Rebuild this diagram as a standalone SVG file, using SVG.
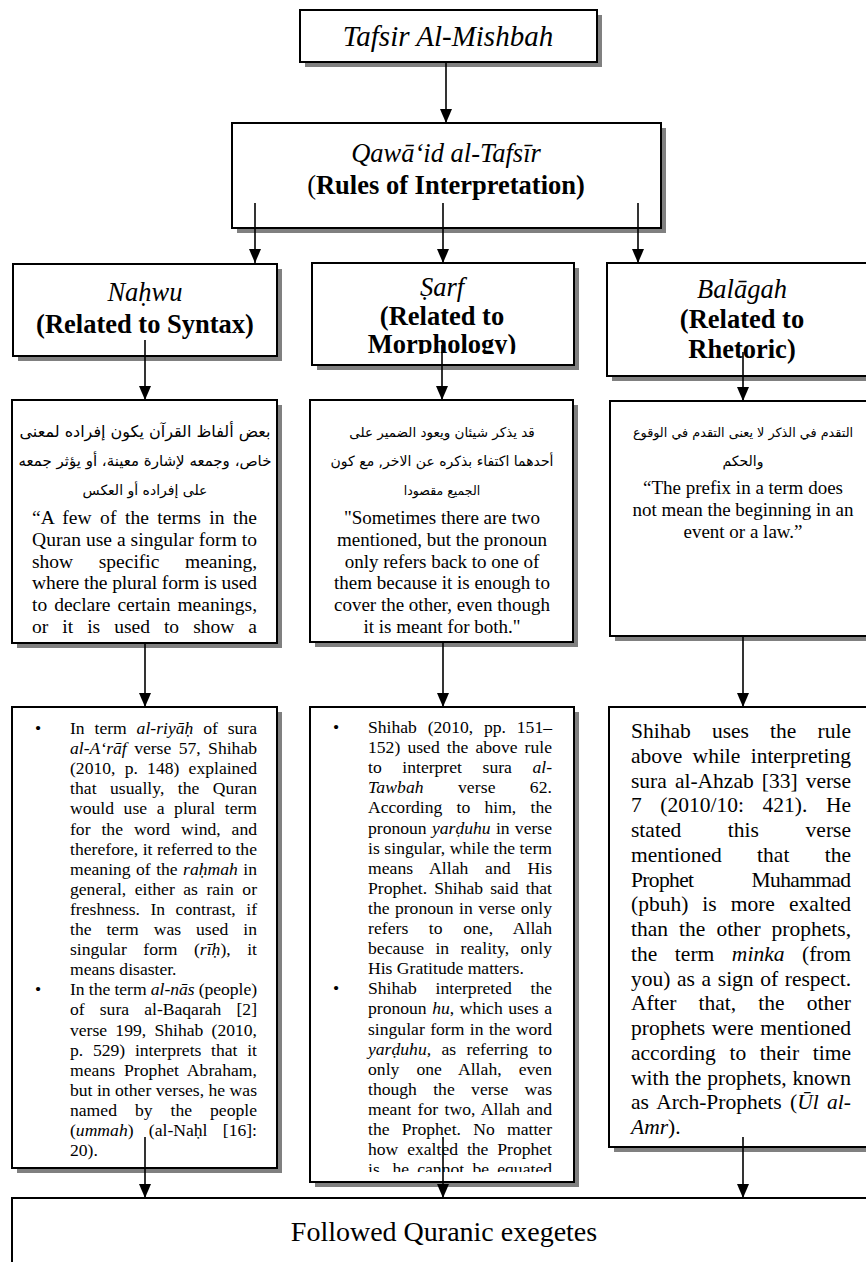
<svg xmlns="http://www.w3.org/2000/svg" width="866" height="1262" viewBox="0 0 866 1262">
<style>
.box{fill:#fff;stroke:#000;stroke-width:2}
.sh{fill:#808080}
text{font-family:'Liberation Serif','Times New Roman',serif;fill:#000}
.ar{font-family:'DejaVu Sans',sans-serif;font-size:14px;text-anchor:middle}
.i{font-style:italic}
.b{font-weight:bold}
.h{font-size:26.5px;text-anchor:middle}
.u{font-size:19.5px}
.c{font-size:19px;text-anchor:middle}
.s{font-size:17.6px}
.r{font-size:21.5px}
.conn line{stroke:#000;stroke-width:1.6;marker-end:url(#ah)}
</style>
<defs>
<marker id="ah" markerUnits="userSpaceOnUse" markerWidth="14" markerHeight="12" viewBox="0 0 14 12" refX="14" refY="6" orient="auto"><path d="M0,0 L14,6 L0,12 z" fill="#000"/></marker>
<clipPath id="cSarf"><rect x="312" y="263" width="262" height="91"/></clipPath>
<clipPath id="cSarfL"><rect x="310" y="707" width="264" height="465"/></clipPath>
</defs>

<g id="title">
<rect class="sh" x="305" y="15" width="297" height="52"/>
<rect class="box" x="300" y="10" width="297" height="52"/>
<text class="h i" x="448" y="46" style="font-size:29px">Tafsir Al-Mishbah</text>
</g>

<g id="qawaid">
<rect class="sh" x="237" y="128" width="429" height="105"/>
<rect class="box" x="232" y="123" width="429" height="105"/>
<text class="h i" x="446" y="162">Qawā‘id al-Tafsīr</text>
<text class="h" x="446" y="194">(<tspan class="b">Rules of Interpretation)</tspan></text>
</g>

<g id="nahwu">
<rect class="sh" x="18" y="269" width="264" height="92"/>
<rect class="box" x="13" y="264" width="264" height="92"/>
<text class="h i" x="145" y="301">Naḥwu</text>
<text class="h b" x="145" y="333">(Related to Syntax)</text>
</g>

<g id="sarf">
<rect class="sh" x="317" y="268" width="262" height="102"/>
<rect class="box" x="312" y="263" width="262" height="102"/>
<text class="h i" x="442" y="296">Ṣarf</text>
<g clip-path="url(#cSarf)">
<text class="h b" x="442" y="325">(Related to</text>
<text class="h b" x="442" y="353">Morphology)</text>
</g>
</g>

<g id="balagah">
<rect class="sh" x="612" y="268" width="270" height="113"/>
<rect class="box" x="607" y="263" width="270" height="113"/>
<text class="h i" x="742" y="298">Balāgah</text>
<text class="h b" x="742" y="328">(Related to</text>
<text class="h b" x="742" y="358">Rhetoric)</text>
</g>

<g id="nahwu-rule">
<rect class="sh" x="17" y="405" width="265" height="243"/>
<rect class="box" x="12" y="400" width="265" height="243"/>
<text class="ar" x="145" y="437" style="font-size:16px">بعض ألفاظ القرآن يكون إفراده لمعنى</text>
<text class="ar" x="145" y="466" style="font-size:15px">خاص، وجمعه لإشارة معينة، أو يؤثر جمعه</text>
<text class="ar" x="145" y="495" style="font-size:14px">على إفراده أو العكس</text>
<text class="u" x="32" y="524" textLength="225" lengthAdjust="spacing" word-spacing="3.6">“A few of the terms in the</text>
<text class="u" x="32" y="545.8" textLength="225" lengthAdjust="spacing">Quran use a singular form to</text>
<text class="u" x="32" y="567.6" textLength="225" lengthAdjust="spacing" word-spacing="20.7">show specific meaning,</text>
<text class="u" x="32" y="589.4" textLength="225" lengthAdjust="spacing">where the plural form is used</text>
<text class="u" x="32" y="611.2" textLength="225" lengthAdjust="spacing" word-spacing="2.1">to declare certain meanings,</text>
<text class="u" x="32" y="633" textLength="225" lengthAdjust="spacing" word-spacing="9.2">or it is used to show a</text>
</g>

<g id="sarf-rule">
<rect class="sh" x="315" y="405" width="263" height="242"/>
<rect class="box" x="310" y="400" width="263" height="242"/>
<text class="ar" x="442" y="437" style="font-size:13.5px">قد يذكر شيئان ويعود الضمير على</text>
<text class="ar" x="442" y="466">أحدهما اكتفاء بذكره عن الاخر, مع كون</text>
<text class="ar" x="442" y="495" style="font-size:12.5px">الجميع مقصودا</text>
<text class="c" x="442" y="524">"Sometimes there are two</text>
<text class="c" x="442" y="545.8">mentioned, but the pronoun</text>
<text class="c" x="442" y="567.6">only refers back to one of</text>
<text class="c" x="442" y="589.4">them because it is enough to</text>
<text class="c" x="442" y="611.2">cover the other, even though</text>
<text class="c" x="442" y="633">it is meant for both."</text>
</g>

<g id="balagah-rule">
<rect class="sh" x="615" y="406" width="266" height="235"/>
<rect class="box" x="610" y="401" width="266" height="235"/>
<text class="ar" x="743" y="437" style="font-size:12.8px">التقدم في الذكر لا يعنى التقدم في الوقوع</text>
<text class="ar" x="743" y="466">والحكم</text>
<text class="c" x="743" y="494">“The prefix in a term does</text>
<text class="c" x="743" y="516">not mean the beginning in an</text>
<text class="c" x="743" y="538">event or a law.”</text>
</g>

<g id="nahwu-example">
<rect class="sh" x="17" y="712" width="265" height="461"/>
<rect class="box" x="12" y="707" width="265" height="461"/>
<text class="s" x="35" y="734">•</text>
<text class="s" x="35" y="995.3">•</text>
<text class="s" x="70" y="734" textLength="187" lengthAdjust="spacing" word-spacing="5.4">In term <tspan class="i">al-riyāḥ</tspan> of sura</text>
<text class="s" x="70" y="754.1" textLength="187" lengthAdjust="spacing" word-spacing="3"><tspan class="i">al-A‘rāf</tspan> verse 57, Shihab</text>
<text class="s" x="70" y="774.2" textLength="187" lengthAdjust="spacing" word-spacing="4.8">(2010, p. 148) explained</text>
<text class="s" x="70" y="794.3" textLength="187" lengthAdjust="spacing" word-spacing="8.9">that usually, the Quran</text>
<text class="s" x="70" y="814.4" textLength="187" lengthAdjust="spacing" word-spacing="5.2">would use a plural term</text>
<text class="s" x="70" y="834.5" textLength="187" lengthAdjust="spacing" word-spacing="6.5">for the word wind, and</text>
<text class="s" x="70" y="854.6" textLength="187" lengthAdjust="spacing">therefore, it referred to the</text>
<text class="s" x="70" y="874.7" textLength="187" lengthAdjust="spacing" word-spacing="1">meaning of the <tspan class="i">raḥmah</tspan> in</text>
<text class="s" x="70" y="894.8" textLength="187" lengthAdjust="spacing" word-spacing="4.1">general, either as rain or</text>
<text class="s" x="70" y="914.9" textLength="187" lengthAdjust="spacing" word-spacing="6.1">freshness. In contrast, if</text>
<text class="s" x="70" y="935" textLength="187" lengthAdjust="spacing" word-spacing="10.6">the term was used in</text>
<text class="s" x="70" y="955.1" textLength="187" lengthAdjust="spacing" word-spacing="12.1">singular form (<tspan class="i">rīḥ</tspan>), it</text>
<text class="s" x="70" y="975.2">means disaster.</text>
<text class="s" x="70" y="995.3" textLength="187" lengthAdjust="spacing">In the term <tspan class="i">al-nās</tspan> (people)</text>
<text class="s" x="70" y="1015.4" textLength="187" lengthAdjust="spacing" word-spacing="10.7">of sura al-Baqarah [2]</text>
<text class="s" x="70" y="1035.5" textLength="187" lengthAdjust="spacing" word-spacing="3.8">verse 199, Shihab (2010,</text>
<text class="s" x="70" y="1055.6" textLength="187" lengthAdjust="spacing" word-spacing="5.3">p. 529) interprets that it</text>
<text class="s" x="70" y="1075.7" textLength="187" lengthAdjust="spacing" word-spacing="4.3">means Prophet Abraham,</text>
<text class="s" x="70" y="1095.8" textLength="187" lengthAdjust="spacing">but in other verses, he was</text>
<text class="s" x="70" y="1115.9" textLength="187" lengthAdjust="spacing" word-spacing="13.6">named by the people</text>
<text class="s" x="70" y="1136" textLength="187" lengthAdjust="spacing" word-spacing="10.9">(<tspan class="i">ummah</tspan>) (al-Naḥl [16]:</text>
<text class="s" x="70" y="1156.1">20).</text>
</g>

<g id="sarf-example">
<rect class="sh" x="315" y="712" width="264" height="475"/>
<rect class="box" x="310" y="707" width="264" height="475"/>
<g clip-path="url(#cSarfL)">
<text class="s" x="333" y="733">•</text>
<text class="s" x="333" y="994.3">•</text>
<text class="s" x="368" y="733" textLength="184" lengthAdjust="spacing" word-spacing="6.4">Shihab (2010, pp. 151–</text>
<text class="s" x="368" y="753.1" textLength="184" lengthAdjust="spacing" word-spacing="2.7">152) used the above rule</text>
<text class="s" x="368" y="773.2" textLength="184" lengthAdjust="spacing" word-spacing="16.2">to interpret sura <tspan class="i">al-</tspan></text>
<text class="s" x="368" y="793.3" textLength="184" lengthAdjust="spacing" word-spacing="29.7"><tspan class="i">Tawbah</tspan> verse 62.</text>
<text class="s" x="368" y="813.4" textLength="184" lengthAdjust="spacing" word-spacing="9.8">According to him, the</text>
<text class="s" x="368" y="833.5" textLength="184" lengthAdjust="spacing" word-spacing="0.9">pronoun <tspan class="i">yarḍuhu</tspan> in verse</text>
<text class="s" x="368" y="853.6" textLength="184" lengthAdjust="spacing">is singular, while the term</text>
<text class="s" x="368" y="873.7" textLength="184" lengthAdjust="spacing" word-spacing="12.3">means Allah and His</text>
<text class="s" x="368" y="893.8" textLength="184" lengthAdjust="spacing" word-spacing="2.7">Prophet. Shihab said that</text>
<text class="s" x="368" y="913.9" textLength="184" lengthAdjust="spacing" word-spacing="1">the pronoun in verse only</text>
<text class="s" x="368" y="934" textLength="184" lengthAdjust="spacing" word-spacing="16">refers to one, Allah</text>
<text class="s" x="368" y="954.1" textLength="184" lengthAdjust="spacing" word-spacing="6.9">because in reality, only</text>
<text class="s" x="368" y="974.2">His Gratitude matters.</text>
<text class="s" x="368" y="994.3" textLength="184" lengthAdjust="spacing" word-spacing="14.3">Shihab interpreted the</text>
<text class="s" x="368" y="1014.4" textLength="184" lengthAdjust="spacing" word-spacing="1.2">pronoun <tspan class="i">hu</tspan>, which uses a</text>
<text class="s" x="368" y="1034.5" textLength="184" lengthAdjust="spacing" word-spacing="1">singular form in the word</text>
<text class="s" x="368" y="1054.6" textLength="184" lengthAdjust="spacing" word-spacing="5.9"><tspan class="i">yarḍuhu,</tspan> as referring to</text>
<text class="s" x="368" y="1074.7" textLength="184" lengthAdjust="spacing" word-spacing="12.5">only one Allah, even</text>
<text class="s" x="368" y="1094.8" textLength="184" lengthAdjust="spacing" word-spacing="12">though the verse was</text>
<text class="s" x="368" y="1114.9" textLength="184" lengthAdjust="spacing" word-spacing="1.9">meant for two, Allah and</text>
<text class="s" x="368" y="1135" textLength="184" lengthAdjust="spacing" word-spacing="7.9">the Prophet. No matter</text>
<text class="s" x="368" y="1155.1" textLength="184" lengthAdjust="spacing" word-spacing="4.5">how exalted the Prophet</text>
<text class="s" x="368" y="1175.2" textLength="184" lengthAdjust="spacing" word-spacing="3.8">is, he cannot be equated</text>
</g>
</g>

<g id="balagah-example">
<rect class="sh" x="614" y="712" width="267" height="440"/>
<rect class="box" x="609" y="707" width="267" height="440"/>
<text class="r" x="631" y="738" textLength="220" lengthAdjust="spacing" word-spacing="15.8">Shihab uses the rule</text>
<text class="r" x="631" y="762.75" textLength="220" lengthAdjust="spacing" word-spacing="4.9">above while interpreting</text>
<text class="r" x="631" y="787.5" textLength="220" lengthAdjust="spacing" word-spacing="2.7">sura al-Ahzab [33] verse</text>
<text class="r" x="631" y="812.25" textLength="220" lengthAdjust="spacing" word-spacing="13.2">7 (2010/10: 421). He</text>
<text class="r" x="631" y="837" textLength="220" lengthAdjust="spacing" word-spacing="41.3">stated this verse</text>
<text class="r" x="631" y="861.75" textLength="220" lengthAdjust="spacing" word-spacing="30">mentioned that the</text>
<text class="r" x="631" y="886.5" textLength="220" lengthAdjust="spacing" word-spacing="53.4">Prophet Muhammad</text>
<text class="r" x="631" y="911.25" textLength="220" lengthAdjust="spacing" word-spacing="8.6">(pbuh) is more exalted</text>
<text class="r" x="631" y="936" textLength="220" lengthAdjust="spacing" word-spacing="5.7">than the other prophets,</text>
<text class="r" x="631" y="960.75" textLength="220" lengthAdjust="spacing" word-spacing="12.2">the term <tspan class="i">minka</tspan> (from</text>
<text class="r" x="631" y="985.5" textLength="220" lengthAdjust="spacing" word-spacing="1.3">you) as a sign of respect.</text>
<text class="r" x="631" y="1010.25" textLength="220" lengthAdjust="spacing" word-spacing="16.8">After that, the other</text>
<text class="r" x="631" y="1035" textLength="220" lengthAdjust="spacing" word-spacing="1.3">prophets were mentioned</text>
<text class="r" x="631" y="1059.75" textLength="220" lengthAdjust="spacing" word-spacing="8.2">according to their time</text>
<text class="r" x="631" y="1084.5" textLength="220" lengthAdjust="spacing" word-spacing="0.5">with the prophets, known</text>
<text class="r" x="631" y="1109.25" textLength="220" lengthAdjust="spacing" word-spacing="3">as Arch-Prophets (<tspan class="i">Ūl al-</tspan></text>
<text class="r" x="631" y="1134"><tspan class="i">Amr</tspan>).</text>
</g>

<g id="exegetes">
<rect class="box" x="12" y="1198" width="900" height="100"/>
<text x="444" y="1241" font-size="28" text-anchor="middle">Followed Quranic exegetes</text>
</g>

<g class="conn" id="connectors">
<line x1="446" y1="62" x2="446" y2="123"/>
<line x1="255" y1="203" x2="255" y2="263"/>
<line x1="443" y1="203" x2="443" y2="263"/>
<line x1="638" y1="203" x2="638" y2="263"/>
<line x1="145" y1="340" x2="145" y2="400"/>
<line x1="442" y1="345" x2="442" y2="400"/>
<line x1="743" y1="352" x2="743" y2="401"/>
<line x1="145" y1="643" x2="145" y2="707"/>
<line x1="443" y1="642" x2="443" y2="707"/>
<line x1="743" y1="636" x2="743" y2="707"/>
<line x1="145" y1="1137" x2="145" y2="1198"/>
<line x1="443" y1="1137" x2="443" y2="1198"/>
<line x1="743" y1="1137" x2="743" y2="1198"/>
</g>
</svg>
